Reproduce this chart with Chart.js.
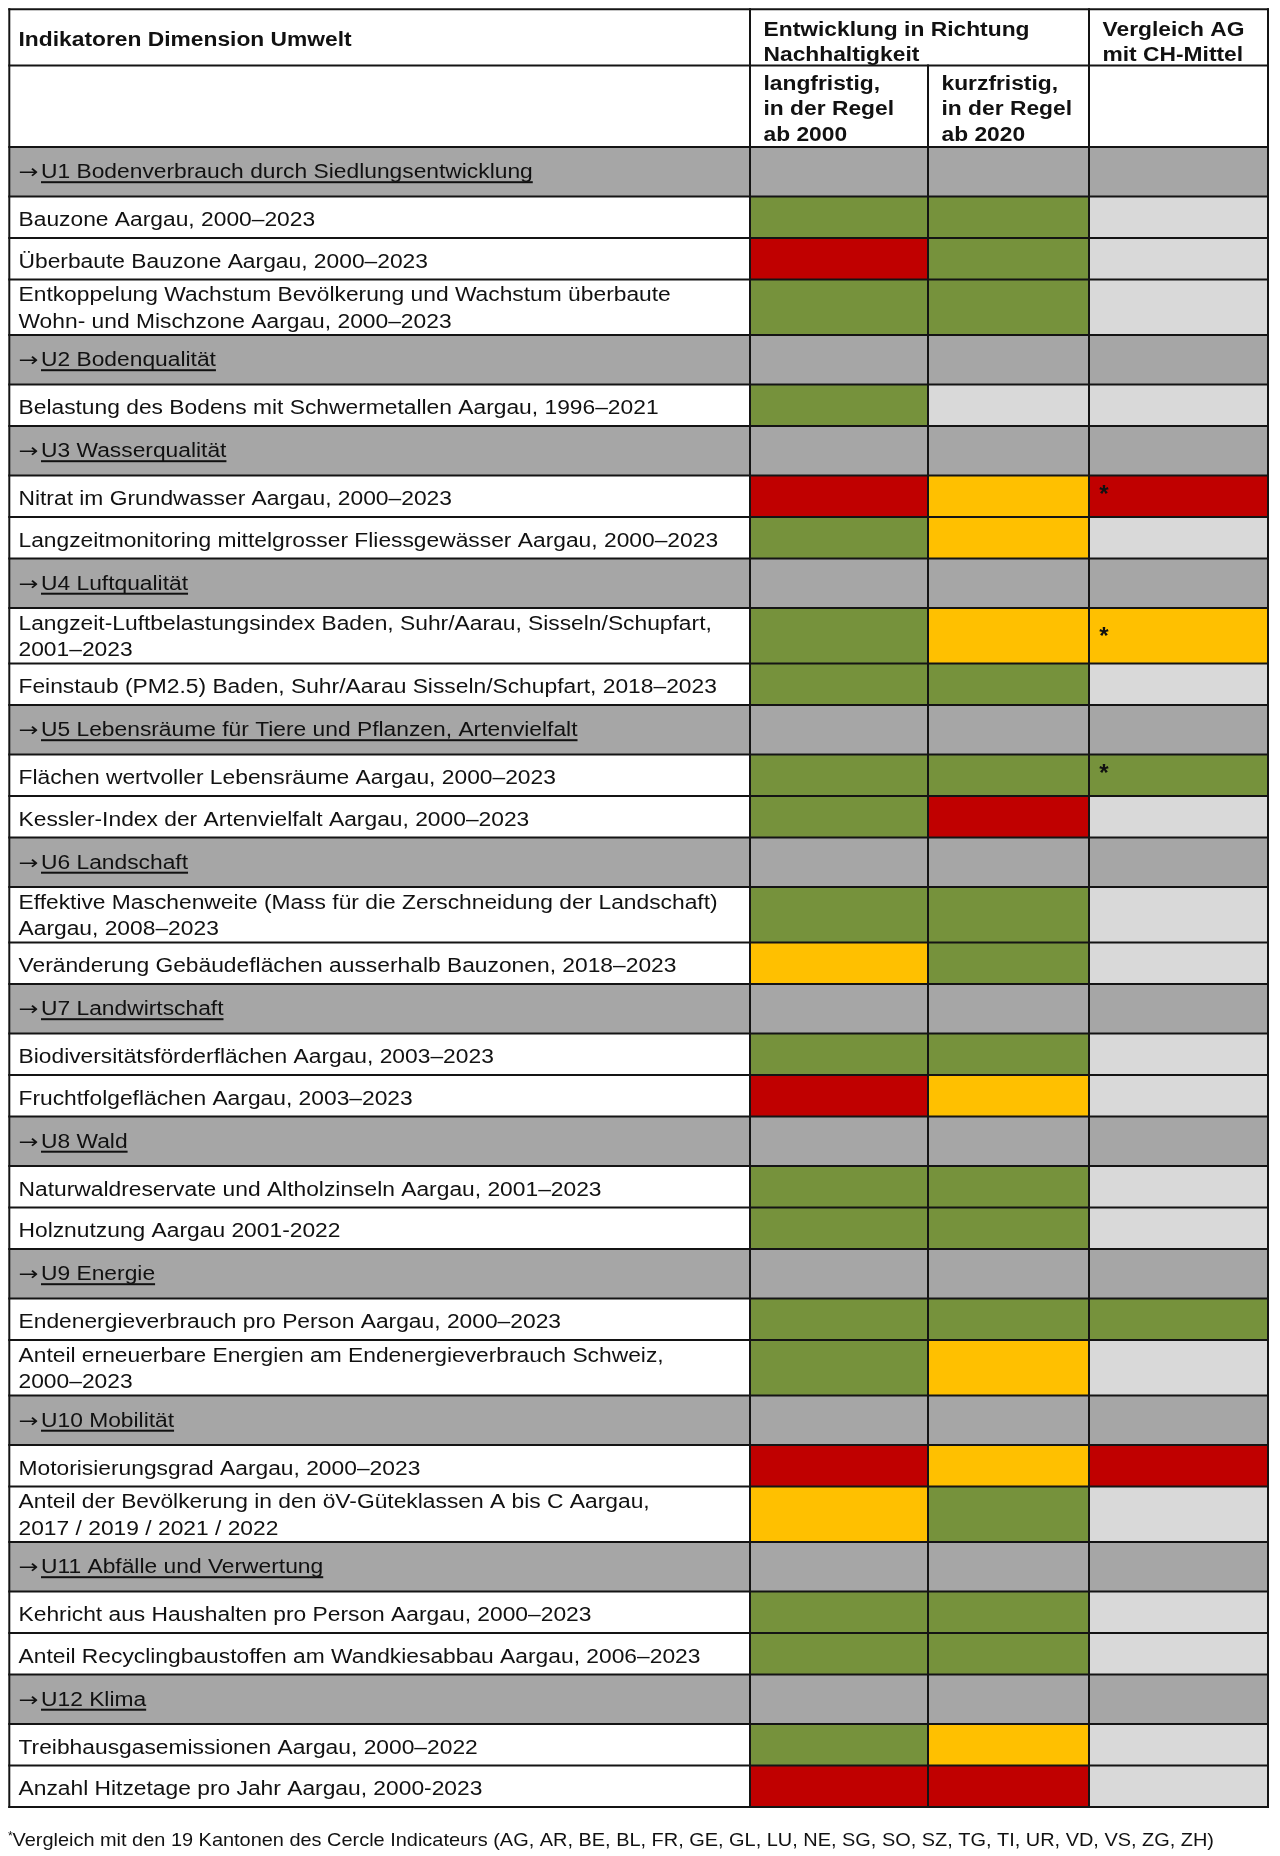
<!DOCTYPE html>
<html>
<head>
<meta charset="utf-8">
<script src="https://cdn.jsdelivr.net/npm/chart.js@4.4.0/dist/chart.umd.min.js"></script>
<style>
html,body{margin:0;padding:0;background:#fff;}
canvas{display:block;}
</style>
</head>
<body>
<canvas id="c" width="1280" height="1856"></canvas>
<script>
// ---------- DATA ----------
const headerTitle = 'Indikatoren Dimension Umwelt';
const headerGroups = ['Entwicklung in Richtung\nNachhaltigkeit', 'Vergleich AG\nmit CH-Mittel'];
const columnLabels = ['langfristig,\nin der Regel\nab 2000', 'kurzfristig,\nin der Regel\nab 2020'];

const rowLabels = [
  '→U1 Bodenverbrauch durch Siedlungsentwicklung',
  'Bauzone Aargau, 2000–2023',
  'Überbaute Bauzone Aargau, 2000–2023',
  'Entkoppelung Wachstum Bevölkerung und Wachstum überbaute\nWohn- und Mischzone Aargau, 2000–2023',
  '→U2 Bodenqualität',
  'Belastung des Bodens mit Schwermetallen Aargau, 1996–2021',
  '→U3 Wasserqualität',
  'Nitrat im Grundwasser Aargau, 2000–2023',
  'Langzeitmonitoring mittelgrosser Fliessgewässer Aargau, 2000–2023',
  '→U4 Luftqualität',
  'Langzeit-Luftbelastungsindex Baden, Suhr/Aarau, Sisseln/Schupfart,\n2001–2023',
  'Feinstaub (PM2.5) Baden, Suhr/Aarau Sisseln/Schupfart, 2018–2023',
  '→U5 Lebensräume für Tiere und Pflanzen, Artenvielfalt',
  'Flächen wertvoller Lebensräume Aargau, 2000–2023',
  'Kessler-Index der Artenvielfalt Aargau, 2000–2023',
  '→U6 Landschaft',
  'Effektive Maschenweite (Mass für die Zerschneidung der Landschaft)\nAargau, 2008–2023',
  'Veränderung Gebäudeflächen ausserhalb Bauzonen, 2018–2023',
  '→U7 Landwirtschaft',
  'Biodiversitätsförderflächen Aargau, 2003–2023',
  'Fruchtfolgeflächen Aargau, 2003–2023',
  '→U8 Wald',
  'Naturwaldreservate und Altholzinseln Aargau, 2001–2023',
  'Holznutzung Aargau 2001-2022',
  '→U9 Energie',
  'Endenergieverbrauch pro Person Aargau, 2000–2023',
  'Anteil erneuerbare Energien am Endenergieverbrauch Schweiz,\n2000–2023',
  '→U10 Mobilität',
  'Motorisierungsgrad Aargau, 2000–2023',
  'Anteil der Bevölkerung in den öV-Güteklassen A bis C Aargau,\n2017 / 2019 / 2021 / 2022',
  '→U11 Abfälle und Verwertung',
  'Kehricht aus Haushalten pro Person Aargau, 2000–2023',
  'Anteil Recyclingbaustoffen am Wandkiesabbau Aargau, 2006–2023',
  '→U12 Klima',
  'Treibhausgasemissionen Aargau, 2000–2022',
  'Anzahl Hitzetage pro Jahr Aargau, 2000-2023'
];

// G = positiv (grün), Y = neutral (gelb), R = negativ (rot), N = keine Bewertung
const longTerm = [null,'G','R','G', null,'G', null,'R','G', null,'G','G', null,'G','G', null,'G','Y',
                  null,'G','R', null,'G','G', null,'G','G', null,'R','Y', null,'G','G', null,'G','R'];
const shortTerm = [null,'G','G','G', null,'N', null,'Y','Y', null,'Y','G', null,'G','R', null,'G','G',
                   null,'G','Y', null,'G','G', null,'G','Y', null,'Y','G', null,'G','G', null,'Y','R'];
const cantonComparison = [null,'N','N','N', null,'N', null,'R','N', null,'Y','N', null,'G','N', null,'N','N',
                          null,'N','N', null,'N','N', null,'G','N', null,'R','N', null,'N','N', null,'N','N'];
const cantonStar = [false,false,false,false, false,false, false,true,false, false,true,false, false,true,false,
                    false,false,false, false,false,false, false,false,false, false,false,false, false,false,false,
                    false,false,false, false,false,false];

const footnote = 'Vergleich mit den 19 Kantonen des Cercle Indicateurs (AG, AR, BE, BL, FR, GE, GL, LU, NE, SG, SO, SZ, TG, TI, UR, VD, VS, ZG, ZH)';

// ---------- STYLE / LAYOUT ----------
const COLORS = { G:'#76923C', Y:'#FFC000', R:'#C00000', N:'#D9D9D9', section:'#A6A6A6', line:'#141414', text:'#111111' };
const L = {
  colEdges: [9.3, 750, 928, 1089, 1268],
  top: 9.3, head1: 56.2, head2: 81.5,
  rowH: { section: 49.5, single: 41.5, double: 55.5 },
  base: { section: [31.2], single: [29.8], double: [21.5, 48] },
  starDy: { single: 13, double: 22 },
  fontSize: 20, sx: 1.14, lineGap: 25.5,
  textPad0: 18.5, headPad: 13.5,
  footY: 1846, footX: 12.5, footRight: 1214, footSize: 18.5
};
const FONT = '"Liberation Sans", Arial, Helvetica, sans-serif';

const kinds = rowLabels.map(l => l.startsWith('→') ? 'section' : (l.includes('\n') ? 'double' : 'single'));
const yHead1 = L.top + L.head1;
const yBodyTop = yHead1 + L.head2;
const rowTop = [];
let acc = yBodyTop;
kinds.forEach(k => { rowTop.push(acc); acc += L.rowH[k]; });
const yBottom = acc;
const statusCols = [longTerm, shortTerm, cantonComparison];

// ---------- DATASETS ----------
const datasets = [];
function cell(x0, x1, y0, y1, color) {
  datasets.push({
    data: [{x:x0, y:y1}, {x:x1, y:y1}],
    fill: {value: y0}, backgroundColor: color, borderWidth: 0, borderColor: 'rgba(0,0,0,0)',
    pointRadius: 0, order: 2
  });
}
function rule(x0, y0, x1, y1) {
  datasets.push({
    data: [{x:x0, y:y0}, {x:x1, y:y1}],
    fill: false, borderColor: COLORS.line, borderWidth: 2, borderCapStyle: 'square',
    pointRadius: 0, order: 0
  });
}
const E = L.colEdges;
rowLabels.forEach((lab, i) => {
  const y0 = rowTop[i], y1 = y0 + L.rowH[kinds[i]];
  if (kinds[i] === 'section') {
    cell(E[0], E[4], y0, y1, COLORS.section);
  } else {
    statusCols.forEach((arr, c) => cell(E[c+1], E[c+2], y0, y1, COLORS[arr[i]]));
  }
});
// horizontal rules
[L.top, yHead1, yBodyTop, ...rowTop.slice(1), yBottom].forEach(y => rule(E[0], y, E[4], y));
// vertical rules
rule(E[0], L.top, E[0], yBottom);
rule(E[1], L.top, E[1], yBottom);
rule(E[2], yHead1, E[2], yBottom);
rule(E[3], L.top, E[3], yBottom);
rule(E[4], L.top, E[4], yBottom);

// ---------- TEXT PLUGIN ----------
const textPlugin = {
  id: 'tableText',
  beforeDraw(chart) {
    const ctx = chart.ctx;
    ctx.save(); ctx.fillStyle = '#fff'; ctx.fillRect(0, 0, chart.width, chart.height); ctx.restore();
  },
  afterDatasetsDraw(chart) {
    const ctx = chart.ctx;
    const X = v => chart.scales.x.getPixelForValue(v);
    const Y = v => chart.scales.y.getPixelForValue(v);
    function txt(s, x, y, bold, size, sx, fam) {
      size = size || L.fontSize; sx = sx || L.sx;
      ctx.save();
      ctx.font = (bold ? 'bold ' : '') + size + 'px ' + (fam || FONT);
      ctx.fillStyle = COLORS.text;
      ctx.textBaseline = 'alphabetic';
      ctx.textAlign = 'left';
      ctx.translate(x, y);
      ctx.scale(sx, 1);
      ctx.fillText(s, 0, 0);
      const w = ctx.measureText(s).width * sx;
      ctx.restore();
      return w;
    }
    function lines(s, x, yFirst, bold) {
      s.split('\n').forEach((ln, k) => txt(ln, x, yFirst + k * L.lineGap, bold));
    }
    // header
    txt(headerTitle, X(L.textPad0), Y(L.top + 36.5), true);
    lines(headerGroups[0], X(E[1] + L.headPad), Y(L.top + 26.2), true);
    lines(headerGroups[1], X(E[3] + L.headPad), Y(L.top + 26.2), true);
    lines(columnLabels[0], X(E[1] + L.headPad), Y(yHead1 + 24), true);
    lines(columnLabels[1], X(E[2] + L.headPad), Y(yHead1 + 24), true);
    // body
    rowLabels.forEach((lab, i) => {
      const k = kinds[i], y0 = rowTop[i];
      const x = X(L.textPad0);
      if (k === 'section') {
        const yb = Y(y0 + L.base.section[0]);
        txt('→', x, yb, false, 19, 1.25, '"DejaVu Sans", sans-serif');
        const ax = x + 22.5;
        const rest = lab.slice(1);
        const w = txt(rest, ax, yb, false);
        ctx.save();
        ctx.fillStyle = COLORS.text;
        ctx.fillRect(ax, yb + 3, w, 2);
        ctx.restore();
      } else {
        lab.split('\n').forEach((ln, j) => txt(ln, x, Y(y0 + L.base[k][j]), false));
        if (cantonStar[i]) {
          ctx.save();
          ctx.font = 'bold 24px ' + FONT;
          ctx.fillStyle = COLORS.text;
          ctx.textAlign = 'center';
          ctx.textBaseline = 'alphabetic';
          ctx.fillText('*', X(E[3] + 15), Y(y0 + L.starDy[k]) + 13.5);
          ctx.restore();
        }
      }
    });
    // footnote
    ctx.save();
    ctx.font = '12px ' + FONT;
    ctx.fillStyle = COLORS.text;
    ctx.fillText('*', X(8), Y(L.footY - 6));
    ctx.font = L.footSize + 'px ' + FONT;
    const nat = ctx.measureText(footnote).width;
    const fsx = (L.footRight - L.footX) / nat;
    ctx.translate(X(L.footX), Y(L.footY));
    ctx.scale(fsx, 1);
    ctx.fillText(footnote, 0, 0);
    ctx.restore();
  }
};

new Chart(document.getElementById('c'), {
  type: 'line',
  data: { datasets },
  options: {
    responsive: false,
    animation: false,
    devicePixelRatio: 1,
    layout: { padding: 0 },
    plugins: { legend: { display: false }, tooltip: { enabled: false }, title: { display: false } },
    elements: { line: { tension: 0 } },
    scales: {
      x: { type: 'linear', min: 0, max: 1280, display: false },
      y: { type: 'linear', min: 0, max: 1856, reverse: true, display: false }
    }
  },
  plugins: [textPlugin]
});
</script>
</body>
</html>
